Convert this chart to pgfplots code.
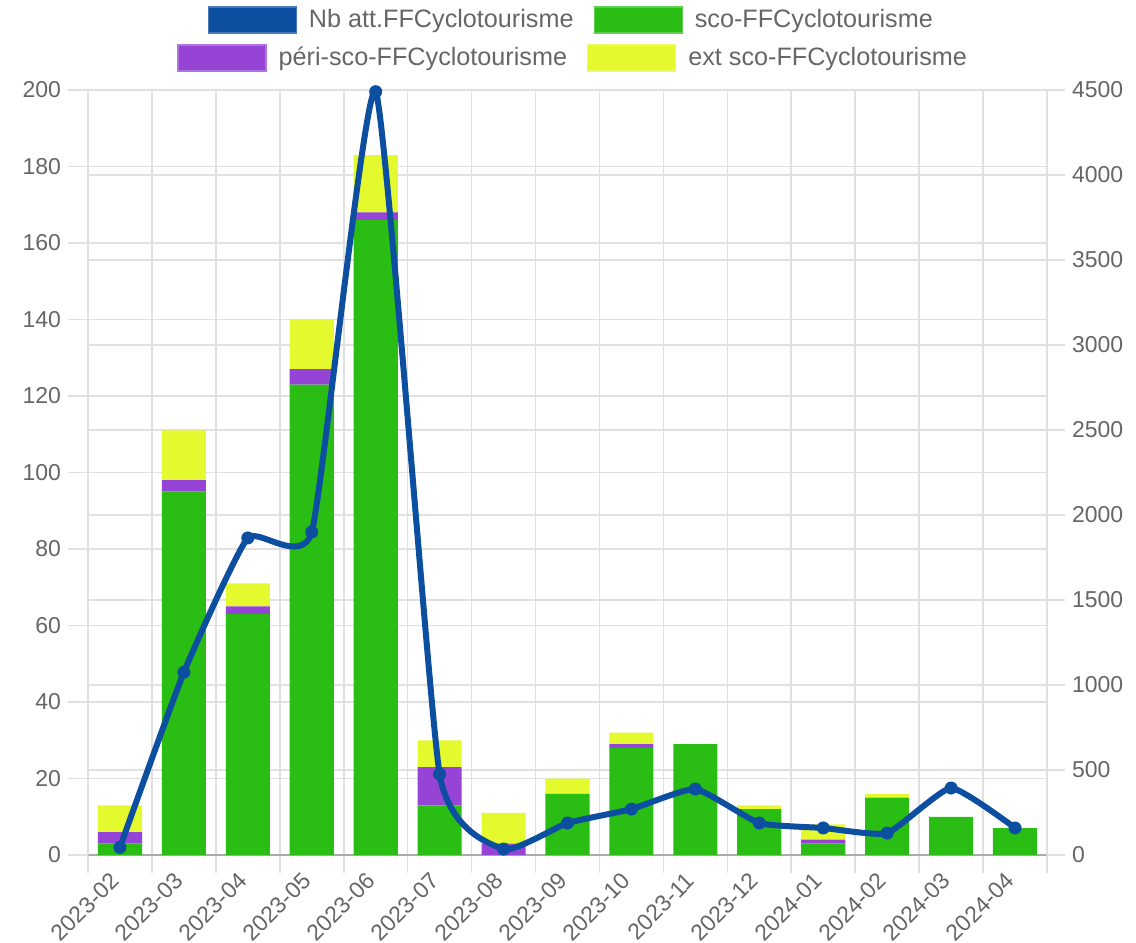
\documentclass[border=0pt]{standalone}
\usepackage{fontspec}
\setmainfont{Liberation Sans}
\usepackage{pgfplots}
\usepackage{pgfplotstable}
\pgfplotsset{compat=1.18}
\definecolor{cblue}{RGB}{12,78,160}
\definecolor{cgreen}{RGB}{42,189,20}
\definecolor{cpurple}{RGB}{150,68,214}
\definecolor{cyellow}{RGB}{228,250,46}
\definecolor{ctext}{RGB}{102,102,102}
\definecolor{cgrid}{RGB}{224,224,224}
\definecolor{caxis}{RGB}{170,170,170}

\pgfplotstableread{
idx sco peri ext att
0 3 3 7 45
1 95 3 13 1075
2 63 2 6 1865
3 123 4 13 1900
4 166 2 15 4490
5 13 10 7 476
6 0 3 8 35
7 16 0 4 188
8 28 1 3 270
9 29 0 0 388
10 12 0 1 188
11 3 1 4 159
12 15 0 1 129
13 10 0 0 394
14 7 0 0 159
}\datatable

\pgfplotsset{
  common/.style={
    scale only axis, width=479.5pt, height=382.5pt,
    xmin=-0.5, xmax=14.5,
    /pgf/number format/assume math mode=true,
    /pgf/number format/1000 sep={},
    tick label style={font=\fontsize{11.5}{14}\selectfont, text=ctext},
    legend style={draw=none, fill=none, font=\fontsize{12.6}{15}\selectfont, text=ctext,
      legend columns=-1,
      /tikz/every even column/.append style={column sep=8pt},
      /tikz/every odd column/.append style={column sep=4pt},
      legend cell align=left},
    tick align=outside,
  },
  boxleg/.style={legend image code/.code={\draw[fill=#1, draw=#1!75!white, line width=0.6pt] (0pt,-6.5pt) rectangle (44pt,6.5pt);}},
}

\begin{document}
\begin{tikzpicture}
\begin{axis}[common,
  ymin=0, ymax=200,
  ybar stacked, bar width=0.69,
  axis y line*=left, axis x line*=bottom,
  y axis line style={cgrid, line width=0.8pt},
  x axis line style={caxis, line width=0.8pt},
  xtick={0,...,14},
  xticklabels={2023-02,2023-03,2023-04,2023-05,2023-06,2023-07,2023-08,2023-09,2023-10,2023-11,2023-12,2024-01,2024-02,2024-03,2024-04},
  major x tick style={draw=none},
  minor xtick={-0.5,0.5,...,14.5},
  xminorgrids=true,
  minor tick length=9pt,
  minor x tick style={cgrid, line width=0.8pt},
  minor x grid style={cgrid, line width=0.8pt},
  xticklabel style={rotate=45, anchor=east},
  xticklabel shift=-1.5pt,
  ytick={0,20,...,200},
  ymajorgrids=true,
  major grid style={cgrid, line width=0.8pt},
  major y tick style={cgrid, line width=0.8pt},
  major tick length=10pt,
  extra y ticks={22.2222,44.4444,66.6667,88.8889,111.1111,133.3333,155.5556,177.7778},
  extra y tick labels={,,,,,,,},
  extra y tick style={grid=major, major tick length=0pt},
  legend style={at={(rel axis cs:0.505,1)}, anchor=center, yshift=35pt},
]
\addlegendimage{boxleg=cblue}
\addlegendentry{Nb att.FFCyclotourisme}
\addlegendimage{boxleg=cgreen}
\addlegendentry{sco-FFCyclotourisme}
\addplot[fill=cgreen, draw=none, forget plot] table[x=idx, y=sco] {\datatable};
\addplot[fill=cpurple, draw=none, forget plot] table[x=idx, y=peri] {\datatable};
\addplot[fill=cyellow, draw=none, forget plot] table[x=idx, y=ext] {\datatable};
\end{axis}
\begin{axis}[common,
  ymin=0, ymax=4500,
  axis y line*=right, axis x line=none,
  y axis line style={cgrid, line width=0.8pt},
  ytick={0,500,...,4500},
  major y tick style={cgrid, line width=0.8pt},
  major tick length=9pt,
  clip=false,
  legend style={at={(rel axis cs:0.507,1)}, anchor=center, yshift=16pt},
]
\addlegendimage{boxleg=cpurple}
\addlegendentry{péri-sco-FFCyclotourisme}
\addlegendimage{boxleg=cyellow}
\addlegendentry{ext sco-FFCyclotourisme}
\addplot[cblue, line width=3pt, smooth, tension=0.28, mark=*, mark size=3pt, mark options={fill=cblue, draw=cblue, line width=0.5pt}, forget plot] table[x=idx, y=att] {\datatable};
\end{axis}
\pgfresetboundingbox
\path (-44pt,-44pt) rectangle (524pt,427.5pt);
\end{tikzpicture}
\end{document}
